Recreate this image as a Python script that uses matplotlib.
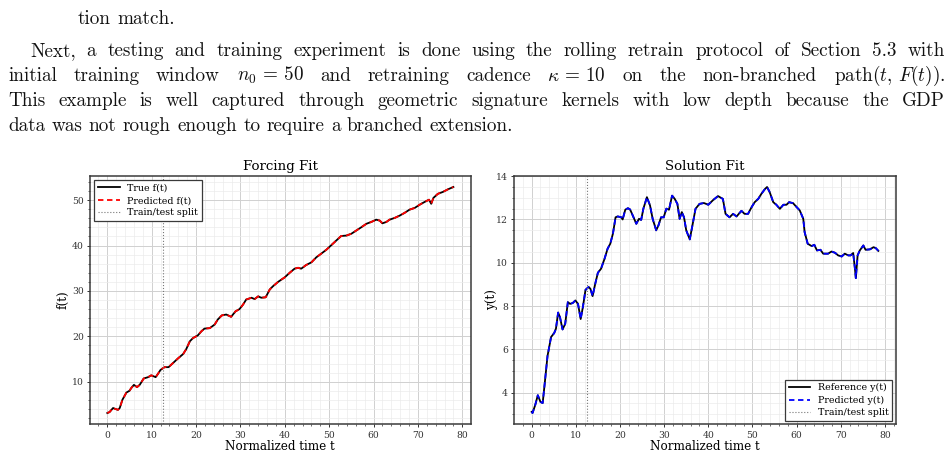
import matplotlib
matplotlib.use('Agg')
import matplotlib.pyplot as plt
from matplotlib.ticker import AutoMinorLocator, MultipleLocator

plt.rcParams['mathtext.fontset'] = 'cm'
plt.rcParams['font.family'] = 'DejaVu Serif'

# ---------------- data ----------------
t_force = [0, 0.5, 1.3, 1.8, 2.4, 2.8, 3.4, 4.3, 5.0, 5.4, 6.0, 6.7, 7.3, 8.2, 9.2,
           9.9, 10.4, 10.9, 11.4, 12.0, 12.9, 13.8, 14.8, 15.9, 17.1, 17.8, 18.6, 19.3, 20.4, 21.2,
           21.9, 23.1, 24.2, 24.9, 25.8, 26.8, 27.9, 28.9, 29.8, 30.6, 31.3, 32.5, 33.2, 34.0, 34.7,
           35.7, 36.6, 37.3, 38.5, 40.0, 41.1, 42.2, 43.0, 43.7, 44.8, 46.0, 47.1, 48.2, 49.4, 50.5,
           51.6, 52.7, 53.9, 55.0, 56.1, 57.2, 58.4, 59.5, 60.6, 61.4, 62.0, 62.9, 63.6, 64.8, 65.9,
           67.0, 68.1, 69.3, 70.4, 71.5, 72.5, 73.0, 73.5, 74.5, 75.6, 76.8, 78.0]
f_true = [3.1, 3.3, 4.2, 4.0, 3.8, 4.2, 6.0, 7.6, 8.0, 8.6, 9.3, 8.8, 9.3, 10.7, 11.0,
          11.4, 11.2, 11.0, 11.7, 12.6, 13.2, 13.2, 14.1, 15.1, 16.1, 17.2, 18.9, 19.6, 20.2, 21.1,
          21.7, 21.8, 22.6, 23.7, 24.6, 24.8, 24.3, 25.5, 26.0, 27.0, 28.1, 28.5, 28.2, 28.8, 28.5,
          28.6, 30.3, 31.0, 32.0, 33.0, 34.0, 34.9, 35.1, 34.9, 35.7, 36.3, 37.4, 38.2, 39.1, 40.1,
          41.1, 42.1, 42.2, 42.6, 43.3, 44.0, 44.8, 45.2, 45.7, 45.5, 44.9, 45.2, 45.7, 46.1, 46.6,
          47.2, 47.9, 48.3, 49.0, 49.6, 50.1, 49.2, 50.5, 51.4, 51.8, 52.4, 52.9]
f_pred = list(f_true)

t_sol = [0, 0.2, 0.8, 1.4, 2.0, 2.5, 3.0, 3.6, 4.4, 5.1,
         5.5, 6.0, 6.4, 7.0, 7.6, 8.2, 8.7, 9.3, 9.9, 10.5,
         11.1, 11.6, 12.2, 12.9, 13.3, 13.8, 14.4, 15.0, 15.7, 16.5,
         17.2, 17.8, 18.4, 19.0, 19.5, 20.3, 20.6, 21.2, 21.8, 22.3,
         22.9, 23.7, 24.3, 24.8, 25.3, 26.1, 26.8, 27.4, 28.2, 28.7,
         29.3, 29.9, 30.5, 31.1, 31.8, 32.4, 33.0, 33.5, 34.0, 34.5,
         35.0, 35.8, 36.4, 37.1, 38.0, 39.0, 40.0, 41.1, 42.2, 43.3,
         43.9, 44.8, 45.6, 46.4, 47.5, 48.2, 49.0, 49.8, 50.5, 51.3,
         52.0, 52.8, 53.3, 53.9, 54.7, 55.4, 56.2, 57.0, 57.7, 58.3,
         59.2, 60.0, 60.7, 61.5, 61.8, 62.5, 63.4, 64.0, 64.6, 65.4,
         66.0, 67.1, 67.9, 68.7, 69.4, 70.2, 70.9, 71.7, 72.2, 72.8,
         73.2, 73.4, 73.8, 74.3, 75.1, 75.6, 76.6, 77.4, 77.9, 78.5]
y_ref = [3.11, 3.06, 3.42, 3.88, 3.57, 3.52, 4.5, 5.7, 6.57, 6.75,
         6.95, 7.7, 7.5, 6.92, 7.18, 8.18, 8.1, 8.14, 8.26, 8.1,
         7.4, 7.95, 8.75, 8.88, 8.8, 8.46, 9.03, 9.54, 9.72, 10.18,
         10.65, 10.88, 11.34, 12.1, 12.14, 12.1, 12.0, 12.45, 12.52, 12.46,
         12.18, 11.8, 12.03, 11.98, 12.5, 13.03, 12.65, 12.03, 11.5, 11.72,
         12.1, 12.1, 12.5, 12.45, 13.1, 12.95, 12.72, 12.03, 12.34, 12.1,
         11.5, 11.08, 11.72, 12.49, 12.72, 12.76, 12.68, 12.9, 13.08, 12.95,
         12.26, 12.1, 12.26, 12.14, 12.4, 12.26, 12.26, 12.57, 12.8, 12.95,
         13.18, 13.4, 13.5, 13.26, 12.8, 12.68, 12.49, 12.68, 12.68, 12.8,
         12.75, 12.57, 12.42, 12.03, 11.42, 10.88, 10.77, 10.83, 10.57, 10.6,
         10.42, 10.42, 10.52, 10.46, 10.34, 10.29, 10.42, 10.34, 10.34, 10.45,
         9.72, 9.29, 10.34, 10.57, 10.8, 10.6, 10.62, 10.72, 10.68, 10.55]
y_pred = list(y_ref)

t_split = 12.5

# ---------------- page text ----------------
text_lines = [
    (["tion", "match."], 78, False),
    (["Next,", "a", "testing", "and", "training", "experiment", "is", "done", "using", "the",
      "rolling", "retrain", "protocol", "of", "Section", "5.3", "with"], 30, True),
    (["initial", "training", "window", r"$n_0\,=\,50$", "and", "retraining", "cadence",
      r"$\kappa\,=\,10$", "on", "the", "non-branched", r"path$(t,\,F(t))$."], 8, True),
    (["This", "example", "is", "well", "captured", "through", "geometric", "signature",
      "kernels", "with", "low", "depth", "because", "the", "GDP"], 8, True),
    (["data", "was", "not", "rough", "enough", "to", "require", "a", "branched",
      "extension."], 8, False),
]
baselines = [24, 56, 81, 106, 131]

W, H = 953, 458
fig = plt.figure(figsize=(W / 100, H / 100), dpi=100)
tax = fig.add_axes([0, 0, 1, 1], zorder=-5)
tax.set_xlim(0, W)
tax.set_ylim(H, 0)
tax.axis('off')

FS = 13.8
right_edge = 945
objs = []
for (words, x0, justify), yb in zip(text_lines, baselines):
    tl = [tax.text(0, yb, w, fontsize=FS, family='cmr10', va='baseline', ha='left',
                   color='#111111') for w in words]
    objs.append((tl, x0, justify))

fig.canvas.draw()
r = fig.canvas.get_renderer()
space = 0.333 * FS * 100 / 72
for tl, x0, justify in objs:
    widths = [t.get_window_extent(r).width for t in tl]
    if justify and len(tl) > 1:
        gap = (right_edge - x0 - sum(widths)) / (len(tl) - 1)
    else:
        gap = space
    x = x0
    for t, w in zip(tl, widths):
        t.set_x(x)
        x += w + gap

# ---------------- plots ----------------
ax1 = fig.add_axes([90 / W, 1 - 424.3 / H, 380.7 / W, 248.6 / H])
ax2 = fig.add_axes([514.3 / W, 1 - 424.3 / H, 381.4 / W, 248.6 / H])


def style(ax):
    ax.xaxis.set_major_locator(MultipleLocator(10))
    ax.xaxis.set_minor_locator(AutoMinorLocator())
    ax.yaxis.set_minor_locator(AutoMinorLocator())
    ax.grid(True, which='major', color='#d0d0d0', lw=0.7)
    ax.grid(True, which='minor', color='#ebebeb', lw=0.5)
    ax.set_axisbelow(True)
    for s in ax.spines.values():
        s.set_color('#3a3a3a')
        s.set_linewidth(1.1)
    ax.tick_params(which='major', length=2.5, width=0.7, pad=2, labelsize=6.7,
                   colors='#333333')
    ax.tick_params(which='minor', length=1.5, width=0.5, colors='#333333')


for ax in (ax1, ax2):
    style(ax)

ax1.plot(t_force, f_true, color='black', lw=1.3, label='True f(t)')
ax1.plot(t_force, f_pred, color='red', lw=1.3, ls=(0, (3, 2)), label='Predicted f(t)')
ax1.axvline(t_split, color='#777777', lw=0.8, ls=':', label='Train/test split')
ax1.set_title('Forcing Fit', fontsize=9.6, pad=4)
ax1.set_xlabel('Normalized time t', fontsize=8.6, labelpad=0)
ax1.set_ylabel('f(t)', fontsize=8.6, labelpad=1.5)
ax1.yaxis.set_major_locator(MultipleLocator(10))
leg1 = ax1.legend(loc='upper left', fontsize=6.8, fancybox=False, framealpha=1,
                  edgecolor='#3a3a3a', handlelength=2.3, borderaxespad=0.45,
                  labelspacing=0.35)
leg1.get_frame().set_linewidth(0.9)

ax2.plot(t_sol, y_ref, color='black', lw=1.3, label='Reference y(t)')
ax2.plot(t_sol, y_pred, color='blue', lw=1.3, ls=(0, (3, 2)), label='Predicted y(t)')
ax2.axvline(t_split, color='#777777', lw=0.8, ls=':', label='Train/test split')
ax2.set_title('Solution Fit', fontsize=9.6, pad=4)
ax2.set_xlabel('Normalized time t', fontsize=8.6, labelpad=0)
ax2.set_ylabel('y(t)', fontsize=8.6, labelpad=-1.5)
ax2.yaxis.set_major_locator(MultipleLocator(2))
leg2 = ax2.legend(loc='lower right', fontsize=6.8, fancybox=False, framealpha=1,
                  edgecolor='#3a3a3a', handlelength=2.3, borderaxespad=0.35,
                  labelspacing=0.35)
leg2.get_frame().set_linewidth(0.9)

fig.savefig('out.png', dpi=100)
